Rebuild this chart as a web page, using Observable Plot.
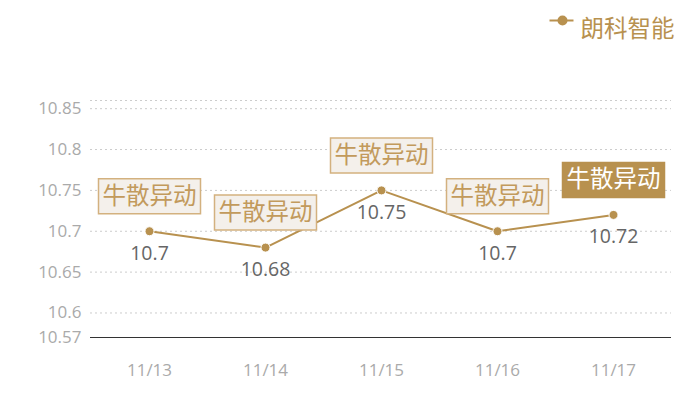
<!DOCTYPE html>
<html><head><meta charset="utf-8">
<script src="https://cdn.jsdelivr.net/npm/d3@7"></script>
<script src="https://cdn.jsdelivr.net/npm/@observablehq/plot@0.6"></script>
<style>body{margin:0;background:#fff;} svg{display:block;}</style>
</head><body><div id="chart"></div>
<script>
const dates = ["11/13","11/14","11/15","11/16","11/17"];
const prices = [10.7, 10.68, 10.75, 10.7, 10.72];
const notes = ["牛散异动","牛散异动","牛散异动","牛散异动","牛散异动"];
const highlighted = [false, false, false, false, true];
const yTicks = [10.57, 10.6, 10.65, 10.7, 10.75, 10.8, 10.85];
const gridLines = [10.6, 10.65, 10.7, 10.75, 10.8, 10.85, 10.86];
const yDomain = [10.57, 10.86];
const seriesName = "朗科智能";

const data = dates.map((d, i) => ({date: d, price: prices[i], note: notes[i], hl: highlighted[i]}));
const gold = "#b8914f";
const font = "'Open Sans', 'Noto Sans CJK SC', sans-serif";
const cjk = "'Noto Sans CJK SC', sans-serif";

const boxSymbol = {draw(ctx) { ctx.rect(-51, -17.5, 102, 35); }};
const lineSymbol = {draw(ctx) { ctx.moveTo(-12, 0); ctx.lineTo(12, 0); }};

const chart = Plot.plot({
  width: 700, height: 400,
  marginLeft: 90, marginRight: 29, marginTop: 100, marginBottom: 63,
  style: {fontFamily: font, background: "#fff"},
  x: {type: "point", domain: dates, padding: 0.5},
  y: {domain: yDomain},
  marks: [
    Plot.ruleY(gridLines, {stroke: "#ccc", strokeDasharray: "2,3", strokeWidth: 1}),
    Plot.ruleY([yDomain[0]], {stroke: "#333", strokeWidth: 1}),
    Plot.axisY({ticks: yTicks, tickSize: 0, tickPadding: 9, tickFormat: d => String(d), fontSize: 17, color: "#aaa", label: null}),
    Plot.axisX({tickSize: 0, tickPadding: 26, fontSize: 17, color: "#aaa", label: null}),
    Plot.line(data, {x: "date", y: "price", stroke: gold, strokeWidth: 2}),
    Plot.dot(data, {x: "date", y: "price", r: 4.5, fill: gold, stroke: "#fff", strokeWidth: 1}),
    Plot.text(data, {x: "date", y: "price", text: d => String(d.price), dy: 22, fontSize: 19.5, fill: "#666"}),
    Plot.dot(data, {x: "date", y: "price", symbol: boxSymbol, r: 10, dy: -35,
      fill: d => d.hl ? gold : "#f4f0eb", stroke: d => d.hl ? gold : "#d3b17f", strokeWidth: 1.5}),
    Plot.text(data, {x: "date", y: "price", text: "note", dy: -35, fontSize: 23.5, fontFamily: cjk,
      fill: d => d.hl ? "#fff" : "#c29a5c"}),
    // legend
    Plot.dot([seriesName], {frameAnchor: "top-left", dx: 471, dy: -80, symbol: lineSymbol, r: 10, stroke: gold, strokeWidth: 2, fill: "none"}),
    Plot.dot([seriesName], {frameAnchor: "top-left", dx: 472, dy: -80, r: 5, fill: gold}),
    Plot.text([seriesName], {frameAnchor: "top-left", text: d => d, dx: 490, dy: -80, textAnchor: "start", fontSize: 23.5, fontFamily: cjk, fill: gold})
  ]
});
document.getElementById("chart").appendChild(chart);
</script>
</body></html>
